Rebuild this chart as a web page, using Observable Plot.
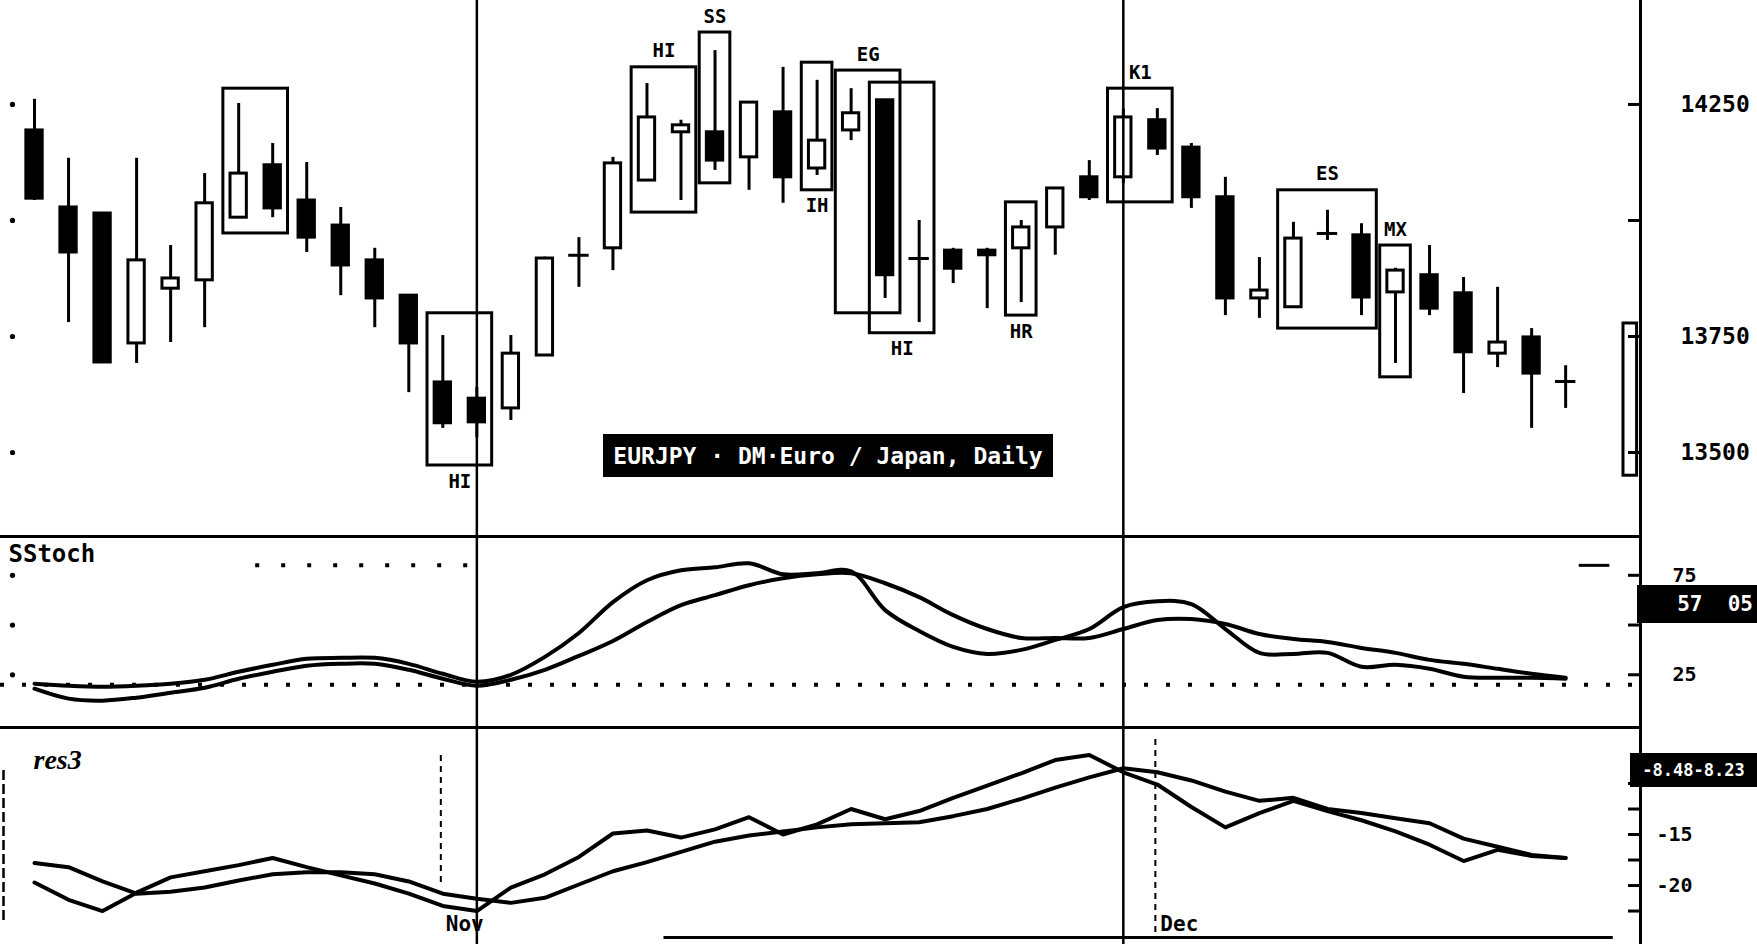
<!DOCTYPE html>
<html>
<head>
<meta charset="utf-8">
<script src="https://cdn.jsdelivr.net/npm/d3@7"></script>
<script src="https://cdn.jsdelivr.net/npm/@observablehq/plot@0.6"></script>
<style>
html, body { margin:0; padding:0; background:#fff; overflow:hidden; }
#chart { position:relative; width:1757px; height:944px; background:#fff; overflow:hidden; }
#chart > .panel { position:absolute; left:0; }
#chart svg { overflow:visible; display:block; background:transparent; }
.tag { position:absolute; background:#000; color:#fff; font-family:"DejaVu Sans Mono", monospace; font-weight:bold; white-space:pre; display:flex; align-items:center; box-sizing:border-box; }
</style>
</head>
<body>
<div id="chart"></div>
<script>
// ---------- data ----------
const day   = d3.range(1, 47);
const open  = [14194,14028,14015,13735,13853,13871,14006,14119,14043,13989,13914,13838,13651,13616,13595,13709,13925,13940,14086,14190,14190,14136,14233,14112,14194,14259,13918,13935,13935,13940,13985,14093,14093,14216,14157,14050,13832,13813,13972,13968,13845,13882,13843,13713,13748,13653];
const high  = [14261,14134,14015,14134,13946,14101,14252,14166,14125,14028,13940,13838,13752,13640,13752,13921,13963,14136,14295,14216,14366,14254,14330,14302,14284,14259,14000,13940,13940,14000,14071,14129,14240,14241,14166,14093,13920,13996,14022,13993,13897,13946,13877,13856,13767,13687];
const low   = [14043,13780,13694,13692,13737,13769,14006,14006,13931,13838,13769,13629,13552,13532,13569,13709,13856,13892,14086,14043,14108,14065,14037,14097,14172,13832,13780,13864,13810,13823,13925,14043,14080,14140,14026,13795,13789,13813,13957,13795,13692,13795,13627,13683,13552,13595];
const close = [14047,13931,13694,13914,13875,14037,14101,14026,13963,13903,13832,13735,13563,13565,13713,13918,13925,14123,14222,14205,14129,14254,14093,14172,14231,13882,13918,13896,13925,13985,14069,14050,14222,14155,14050,13832,13849,13961,13972,13834,13892,13810,13716,13737,13670,13653];
const lastBar = [{day: 47.9, open: 13450, close: 13778}];

const stochK = [20.5,19.5,19,19.5,20.5,22.5,26.5,30,33,33.5,33.5,30.5,25.5,21.5,25,34,46,61.5,72.5,77.5,79,81,75.5,76,77,57.5,47,39,35.5,37.5,42.5,48,59,62,60.5,48,36,35.5,36,29,30,28,24,23.5,23.5,23];
const stochD = [18,13,12,13.5,16,18.5,23,26.5,29.5,30.5,30.5,27.5,23,19.5,22.5,27.5,34.5,42,51.5,60,65,70,73.5,75.5,76,71,64,55,48,43.5,43.5,43.5,48,52.5,53,50.5,45.5,43,41.5,38.5,36,32.5,30.5,28,25.5,23.5];
const res3Fast = [-19.7,-21.4,-22.5,-20.7,-19.2,-18.6,-18.0,-17.3,-18.2,-19.0,-19.8,-20.8,-22.0,-22.5,-20.2,-18.9,-17.2,-14.9,-14.6,-15.3,-14.5,-13.3,-15.0,-14.0,-12.5,-13.5,-12.7,-11.4,-10.2,-9.0,-7.7,-7.2,-8.9,-10.1,-12.3,-14.3,-12.9,-11.7,-12.7,-13.6,-14.7,-16.0,-17.6,-16.5,-17.1,-17.3];
const res3Slow = [-17.8,-18.2,-19.6,-20.8,-20.6,-20.2,-19.5,-18.9,-18.7,-18.7,-18.9,-19.6,-20.8,-21.3,-21.7,-21.2,-19.9,-18.6,-17.7,-16.7,-15.7,-15.1,-14.7,-14.3,-14.0,-13.9,-13.8,-13.2,-12.5,-11.5,-10.4,-9.4,-8.5,-8.9,-9.7,-10.8,-11.7,-11.4,-12.5,-12.9,-13.4,-13.9,-15.4,-16.2,-17.0,-17.3];

const priceTicks  = [14250, 14000, 13750, 13500];
const priceLabels = ["14250", "", "13750", "13500"];
const stochTicks  = [75, 50, 25];
const stochLabels = ["75", "", "25"];
const stochLow = 20, stochHigh = 80;
const res3Ticks   = [-10, -12.5, -15, -17.5, -20, -22.5];
const res3Labels  = ["", "", "-15", "", "-20", ""];

const patLabel  = ["", "HI", "HI", "SS", "IH", "EG", "HI", "HR", "K1", "ES", "MX"];
const patFirst  = [7, 13, 19, 21, 24, 25, 26, 30, 33, 38, 41];
const patLast   = [8, 14, 20, 21, 24, 26, 27, 30, 34, 40, 41];
const patTop    = [14284, 13800, 14330, 14405, 14340, 14323, 14297, 14039, 14284, 14065, 13946];
const patBottom = [13972, 13472, 14017, 14080, 14065, 13800, 13757, 13795, 14039, 13767, 13662];
const patSide   = ["", "below", "above", "above", "below", "above", "below", "below", "above", "above", "above"];

const cursorDays = [14, 33];
const monthLabel = ["Nov", "Dec"];
const monthDay   = [13, 34];

const titleText = "EURJPY \u00b7 DM\u00b7Euro / Japan, Daily";
const stochTag = "57  05";
const res3Tag = "-8.48-8.23";

// ---------- build ----------
const candles = day.map((d, i) => ({day: d, open: open[i], high: high[i], low: low[i], close: close[i]}));
const dojis = candles.filter(d => d.open === d.close);
const stoch = day.map((d, i) => ({day: d, k: stochK[i], d: stochD[i]}));
const res3 = day.map((d, i) => ({day: d, fast: res3Fast[i], slow: res3Slow[i]}));
const patterns = patLabel.map((l, i) => ({label: l, x1: patFirst[i] - 0.45, x2: patLast[i] + 0.45, top: patTop[i], bottom: patBottom[i], side: patSide[i]}));
const months = monthLabel.map((l, i) => ({label: l, day: monthDay[i]}));

const W = 1757, plotRight = 1640;
const xDomain = [0, 48.2];
const pxPerDay = plotRight / (xDomain[1] - xDomain[0]);
const tickLen = 12 / pxPerDay;
const xmax = xDomain[1];
const ink = "black";
const font = "'DejaVu Sans Mono', monospace";
const lw = 4;

const common = {
  width: W, marginTop: 0, marginBottom: 0, marginLeft: 0, marginRight: W - plotRight,
  x: {domain: xDomain, axis: null},
  style: {fontFamily: font, fontWeight: "bold", background: "transparent", overflow: "visible", color: ink}
};

function rightTicks(ticks, labels, dx, fontSize) {
  return [
    Plot.ruleY(ticks, {x1: xmax - tickLen, x2: xmax, y: d => d, stroke: ink, strokeWidth: 3}),
    Plot.text(ticks.filter((d, i) => labels[i]), {x: () => xmax, y: d => d, text: d => labels[ticks.indexOf(d)], dx, textAnchor: "start", fontSize, fill: ink, fontWeight: "bold"})
  ];
}
function leftDots(ticks) {
  return Plot.dot(ticks, {x: () => xDomain[0], y: d => d, dx: 12, r: 2.6, fill: ink, stroke: "none"});
}

// Panel 1: price
const p1 = Plot.plot({
  ...common, height: 536,
  y: {domain: [13319, 14474], axis: null},
  marks: [
    Plot.rect(patterns, {x1: "x1", x2: "x2", y1: "bottom", y2: "top", fill: "none", stroke: ink, strokeWidth: 3}),
    Plot.ruleX(candles, {x: "day", y1: "low", y2: "high", stroke: ink, strokeWidth: 3}),
    Plot.rect(candles.filter(d => d.open !== d.close), {
      x1: d => d.day - 0.24, x2: d => d.day + 0.24, y1: "open", y2: "close",
      fill: d => d.close > d.open ? "white" : "black", stroke: ink, strokeWidth: 3
    }),
    Plot.ruleY(dojis, {x1: d => d.day - 0.3, x2: d => d.day + 0.3, y: "open", stroke: ink, strokeWidth: 3}),
    Plot.rect(lastBar, {x1: d => d.day - 0.2, x2: d => d.day + 0.2, y1: "open", y2: "close", fill: "white", stroke: ink, strokeWidth: 3}),
    Plot.text(patterns.filter(d => d.side === "above"), {x: d => (d.x1 + d.x2) / 2, y: "top", text: "label", dy: -16, fontSize: 19, fill: ink}),
    Plot.text(patterns.filter(d => d.side === "below"), {x: d => (d.x1 + d.x2) / 2, y: "bottom", text: "label", dy: 16, fontSize: 19, fill: ink}),
    Plot.ruleX(cursorDays, {stroke: ink, strokeWidth: 2.5}),
    Plot.ruleX([xmax], {stroke: ink, strokeWidth: 3}),
    ...rightTicks(priceTicks, priceLabels, 40, 23),
    leftDots(priceTicks)
  ]
});

// Panel 2: SStoch
const p2 = Plot.plot({
  ...common, height: 191,
  y: {domain: [-1.5, 94.5], axis: null},
  marks: [
    Plot.ruleY([stochLow], {stroke: ink, strokeWidth: 4, strokeDasharray: "4 18"}),
    Plot.ruleY([stochHigh], {x1: 7.5, x2: 14, stroke: ink, strokeWidth: 4, strokeDasharray: "4 22"}),
    Plot.ruleY([stochHigh], {x1: 46.4, x2: 47.3, stroke: ink, strokeWidth: 3}),
    Plot.line(stoch, {x: "day", y: "d", stroke: ink, strokeWidth: lw, curve: "catmull-rom"}),
    Plot.line(stoch, {x: "day", y: "k", stroke: ink, strokeWidth: lw, curve: "catmull-rom"}),
    Plot.ruleY([94.5], {stroke: ink, strokeWidth: 3}),
    Plot.ruleX(cursorDays, {stroke: ink, strokeWidth: 2.5}),
    Plot.ruleX([xmax], {stroke: ink, strokeWidth: 3}),
    ...rightTicks(stochTicks, stochLabels, 32, 20),
    leftDots(stochTicks),
    Plot.text(["SStoch"], {frameAnchor: "top-left", text: d => d, dx: 8, dy: 8, textAnchor: "start", lineAnchor: "top", fontSize: 24, fill: ink})
  ]
});

// Panel 3: res3
const p3 = Plot.plot({
  ...common, height: 217,
  y: {domain: [-25.78, -4.51], axis: null},
  marks: [
    Plot.line(res3, {x: "day", y: "slow", stroke: ink, strokeWidth: lw}),
    Plot.line(res3, {x: "day", y: "fast", stroke: ink, strokeWidth: lw}),
    Plot.ruleY([-4.51], {stroke: ink, strokeWidth: 3}),
    Plot.ruleX(cursorDays, {stroke: ink, strokeWidth: 2.5}),
    Plot.ruleX(months.filter(d => d.label === "Nov"), {x: "day", dx: -2, insetTop: 28, insetBottom: 62, stroke: ink, strokeWidth: 2, strokeDasharray: "6 5"}),
    Plot.ruleX(months.filter(d => d.label === "Dec"), {x: "day", dx: -2, insetTop: 12, insetBottom: 12, stroke: ink, strokeWidth: 2, strokeDasharray: "6 5"}),
    Plot.text(months, {x: "day", text: "label", frameAnchor: "bottom", dx: 3, dy: -20, textAnchor: "start", lineAnchor: "middle", fontSize: 21, fill: ink}),
    Plot.ruleY([-25.1], {x1: 19.5, x2: 47.4, stroke: ink, strokeWidth: 3}),
    Plot.ruleX([xmax], {stroke: ink, strokeWidth: 3}),
    ...rightTicks(res3Ticks, res3Labels, 16, 20),
    Plot.ruleX([xDomain[0]], {dx: 3, insetTop: 43, insetBottom: 20, stroke: ink, strokeWidth: 2.5, strokeDasharray: "10 4"}),
    Plot.text(["res3"], {frameAnchor: "top-left", text: d => d, dx: 33, dy: 22, textAnchor: "start", lineAnchor: "top", fontSize: 28, fontStyle: "italic", fontFamily: "'Liberation Serif', serif", fill: ink})
  ]
});

const chart = document.getElementById("chart");
function addPanel(top, el) {
  const div = document.createElement("div");
  div.className = "panel";
  div.style.top = top + "px";
  div.appendChild(el);
  chart.appendChild(div);
}
addPanel(0, p1);
addPanel(536, p2);
addPanel(727, p3);

function addTag(text, left, top, width, height, fontSize, justify, pad) {
  const t = document.createElement("div");
  t.className = "tag";
  Object.assign(t.style, {left: left + "px", top: top + "px", width: width + "px", height: height + "px", fontSize: fontSize + "px", justifyContent: justify, paddingRight: pad + "px"});
  t.textContent = text;
  chart.appendChild(t);
}
addTag(titleText, 603, 434, 450, 43, 23, "center", 0);
addTag(stochTag, 1637, 585, 120, 38, 21, "flex-end", 4);
addTag(res3Tag, 1630, 753, 127, 34, 17, "center", 0);
</script>
</body>
</html>
